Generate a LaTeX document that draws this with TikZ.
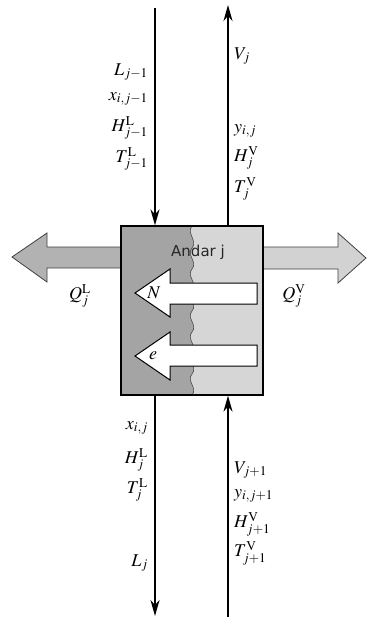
\documentclass[tikz,border=0pt]{standalone}
\usepackage{mathptmx}
\usepackage{fontspec}
\newfontfamily\labelfont{DejaVu Sans}
\usetikzlibrary{arrows.meta}
\definecolor{darkpart}{HTML}{A4A4A4}
\definecolor{lightpart}{HTML}{D6D6D6}
\definecolor{qleft}{HTML}{B2B2B2}
\definecolor{qright}{HTML}{D2D2D2}
\tikzset{
  flow/.style={line width=1.7pt,-{Stealth[length=16pt,width=9pt,inset=5pt]}},
  bigarrow/.style={draw=black!75,line width=0.8pt},
  innerarrow/.style={draw=black,fill=white,line width=1pt},
  lbl/.style={font=\fontsize{18}{20}\selectfont,inner sep=0pt},
  lbll/.style={lbl,anchor=east},
  lblr/.style={lbl,anchor=west},
}
\begin{document}
\begin{tikzpicture}[x=1pt,y=-1pt]
\useasboundingbox (0,0) rectangle (368,619);
% heat arrows
\draw[bigarrow,fill=qleft] (122,247) -- (47,247) -- (47,233) -- (12,257) -- (47,282) -- (47,268) -- (122,268);
\draw[bigarrow,fill=qright] (262,247) -- (338,247) -- (338,233) -- (366,258) -- (338,283) -- (338,269) -- (262,269);
% stage box fills
\fill[lightpart] (121,226) rectangle (263,395);
\fill[darkpart] (121,226) -- (192,226)
  .. controls (186,233) and (198,241) .. (192,248)
  .. controls (186,255) and (198,262) .. (192,269)
  .. controls (186,276) and (198,283) .. (192,290)
  .. controls (186,297) and (198,304) .. (192,311)
  .. controls (186,318) and (198,325) .. (192,332)
  .. controls (186,339) and (198,346) .. (192,353)
  .. controls (186,360) and (198,367) .. (192,374)
  .. controls (186,381) and (198,388) .. (192,395)
  -- (121,395) -- cycle;
\draw[black!70,line width=0.6pt] (192,226)
  .. controls (186,233) and (198,241) .. (192,248)
  .. controls (186,255) and (198,262) .. (192,269)
  .. controls (186,276) and (198,283) .. (192,290)
  .. controls (186,297) and (198,304) .. (192,311)
  .. controls (186,318) and (198,325) .. (192,332)
  .. controls (186,339) and (198,346) .. (192,353)
  .. controls (186,360) and (198,367) .. (192,374)
  .. controls (186,381) and (198,388) .. (192,395);
\node[draw=black,line width=1.2pt,minimum width=142pt,minimum height=169pt,inner sep=0pt] (box) at (192,310.5) {};
% inner transfer arrows
\draw[innerarrow] (257,283) -- (170,283) -- (170,269) -- (135,293) -- (170,317) -- (170,304) -- (257,304) -- cycle;
\draw[innerarrow] (257,345) -- (170,345) -- (170,332) -- (135,356) -- (170,380) -- (170,366) -- (257,366) -- cycle;
\node[lbl] (nN) at (154,293) {$N$};
\node[lbl] (ne) at (153,356) {$e$};
\node[inner sep=0pt,font=\labelfont\fontsize{15}{17}\selectfont,text=black!85] (stage) at (198,252) {Andar j};
% streams
\coordinate (ltop) at (155,8);
\coordinate (rtop) at (228,5);
\coordinate (lbot) at (155,616);
\coordinate (rbot) at (228,617);
\draw[flow] (ltop) -- (ltop |- box.north);
\draw[flow] (rtop |- box.north) -- (rtop);
\draw[flow] (ltop |- box.south) -- (lbot);
\draw[flow] (rbot) -- (rbot |- box.south);
% heat labels
\node[lbl] (QL) at (80,296) {$Q_j^{\mathrm{L}}$};
\node[lbl] (QV) at (294,296) {$Q_j^{\mathrm{V}}$};
% top left labels
\node[lbll] (a1) at (148,72) {$L_{j-1}$};
\node[lbll] (a2) at (148,99) {$x_{i,j-1}$};
\node[lbll] (a3) at (148,128) {$H_{j-1}^{\mathrm{L}}$};
\node[lbll] (a4) at (148,159) {$T_{j-1}^{\mathrm{L}}$};
% top right labels
\node[lblr] (b1) at (234,56) {$V_j$};
\node[lblr] (b2) at (234,131) {$y_{i,j}$};
\node[lblr] (b3) at (234,158) {$H_j^{\mathrm{V}}$};
\node[lblr] (b4) at (234,189) {$T_j^{\mathrm{V}}$};
% bottom left labels
\node[lbll] (c1) at (148,428) {$x_{i,j}$};
\node[lbll] (c2) at (148,460) {$H_j^{\mathrm{L}}$};
\node[lbll] (c3) at (148,490) {$T_j^{\mathrm{L}}$};
\node[lbll] (c4) at (148,563) {$L_j$};
% bottom right labels
\node[lblr] (d1) at (234,470) {$V_{j+1}$};
\node[lblr] (d2) at (234,496) {$y_{i,j+1}$};
\node[lblr] (d3) at (234,524) {$H_{j+1}^{\mathrm{V}}$};
\node[lblr] (d4) at (234,553) {$T_{j+1}^{\mathrm{V}}$};
\end{tikzpicture}
\end{document}
